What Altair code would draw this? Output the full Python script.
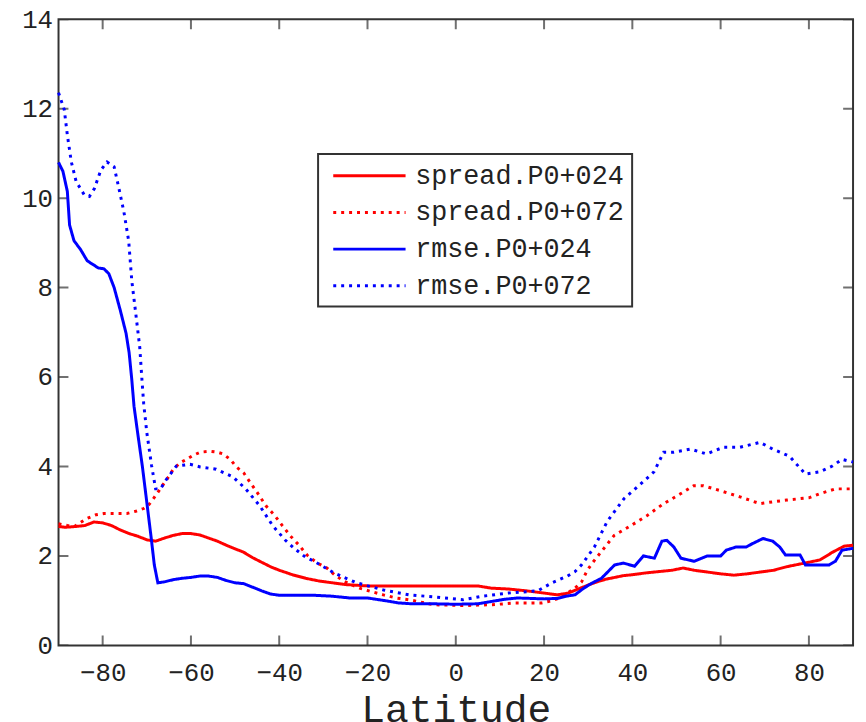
import altair as alt
import pandas as pd

# ---------------- data ----------------
series_names = ["spread.P0+024", "spread.P0+072", "rmse.P0+024", "rmse.P0+072"]
series_colors = ["#ff0000", "#ff0000", "#0000ff", "#0000ff"]
series_dashes = [[1, 0], [3, 5], [1, 0], [3, 5]]

x_ticks = [-80, -60, -40, -20, 0, 20, 40, 60, 80]
y_ticks = [0, 2, 4, 6, 8, 10, 12, 14]

spread024_lat = [-90, -88.5, -86, -84, -82, -80, -78, -76, -74, -72,
                 -70, -68, -66, -64, -62, -60, -58, -56, -54, -52,
                 -50, -48, -46, -44, -42, -40, -37, -34, -31, -28,
                 -25, -20, -15, -10, -5, 0, 5, 8, 12, 16,
                 20, 23, 25.5, 27.5, 30, 32, 34, 36, 38, 40,
                 43, 46, 49, 51.5, 54, 57, 60, 63, 66, 69,
                 72, 75, 78, 80, 82.5, 85.3, 88, 90]
spread024_val = [2.66, 2.64, 2.66, 2.68, 2.76, 2.74, 2.68, 2.58, 2.5, 2.44,
                 2.36, 2.33, 2.4, 2.46, 2.5, 2.5, 2.47, 2.4, 2.33, 2.24,
                 2.16, 2.08, 1.96, 1.86, 1.76, 1.68, 1.58, 1.5, 1.44, 1.4,
                 1.36, 1.33, 1.33, 1.33, 1.33, 1.33, 1.33, 1.28, 1.26, 1.22,
                 1.17, 1.13, 1.17, 1.25, 1.35, 1.42, 1.48, 1.52, 1.56, 1.58,
                 1.62, 1.65, 1.68, 1.73, 1.68, 1.64, 1.6, 1.57, 1.6, 1.64,
                 1.68, 1.76, 1.82, 1.86, 1.91, 2.08, 2.22, 2.24]

spread072_lat = [-90, -88, -86.4, -85, -83.5, -81.5, -79.7, -77, -74.5, -72.5,
                 -70.7, -69.5, -68.5, -67.3, -66.2, -65, -64, -62.5, -61, -59.5,
                 -57.9, -55.7, -54, -52.7, -51, -49.8, -48, -46.7, -45, -43,
                 -41, -39.3, -37.5, -35.5, -33.7, -31.5, -29.2, -27.5, -25.4, -23.5,
                 -21.8, -19, -16.4, -13.5, -10.6, -8, -5.2, -2, 1.6, 5,
                 8.3, 11, 13.5, 17, 19.5, 21, 22.4, 24, 25.3, 27,
                 28.5, 29.8, 31, 33, 35.9, 39.7, 43.3, 47.1, 50.9, 53.9,
                 56.1, 59.9, 64.4, 68.9, 71.8, 75, 77.9, 80, 82.4, 86, 90]
spread072_val = [2.72, 2.68, 2.66, 2.75, 2.84, 2.92, 2.95, 2.95, 2.95, 3.0,
                 3.06, 3.15, 3.28, 3.45, 3.61, 3.78, 3.94, 4.08, 4.16, 4.25,
                 4.32, 4.34, 4.32, 4.28, 4.15, 4.0, 3.85, 3.66, 3.42, 3.12,
                 2.9, 2.68, 2.45, 2.24, 2.02, 1.85, 1.73, 1.58, 1.44, 1.35,
                 1.28, 1.2, 1.13, 1.06, 1.02, 0.97, 0.91, 0.9, 0.89, 0.9,
                 0.91, 0.93, 0.95, 0.95, 0.95, 0.98, 1.02, 1.08, 1.17, 1.28,
                 1.42, 1.68, 1.85, 2.1, 2.46, 2.68, 2.9, 3.17, 3.39, 3.57,
                 3.57, 3.46, 3.32, 3.17, 3.21, 3.25, 3.28, 3.3, 3.39, 3.5, 3.5]

rmse024_lat = [-90, -89, -88, -87.5, -86.5, -85, -83.5, -81, -79.7, -78.6,
               -77.4, -76, -74.7, -74, -73.4, -72.9, -72, -71, -70, -69,
               -68.3, -67.5, -66, -64, -62, -60, -58, -56, -54, -52,
               -50, -48, -46, -44, -42, -40, -36, -32, -28, -24,
               -20, -16, -13, -10, -5, 0, 5, 8, 11, 14,
               17, 20, 23, 25, 27, 29, 31, 33, 36, 38,
               40.5, 42.5, 45, 46.7, 47.8, 49.4, 51, 54, 57, 60,
               61.3, 63.5, 65.8, 67.3, 69.6, 71.8, 73.4, 74.7, 78, 79.2,
               84.6, 86, 87.5, 90]
rmse024_val = [10.8, 10.6, 10.15, 9.4, 9.05, 8.85, 8.6, 8.44, 8.42, 8.31,
               8.0, 7.49, 6.98, 6.54, 5.94, 5.35, 4.7, 4.0, 3.2, 2.4,
               1.8, 1.4, 1.42, 1.47, 1.5, 1.52, 1.55, 1.55, 1.52, 1.45,
               1.4, 1.38, 1.3, 1.22, 1.15, 1.12, 1.12, 1.12, 1.1, 1.06,
               1.06, 1.0, 0.95, 0.93, 0.93, 0.92, 0.93, 0.98, 1.03, 1.06,
               1.05, 1.04, 1.05, 1.1, 1.13, 1.28, 1.4, 1.5, 1.8, 1.84,
               1.77, 2.0, 1.95, 2.33, 2.35, 2.2, 1.95, 1.88, 2.0, 2.0,
               2.13, 2.2, 2.2, 2.28, 2.39, 2.33, 2.2, 2.02, 2.02, 1.8,
               1.8, 1.88, 2.13, 2.17]

rmse072_lat = [-90, -88.7, -88, -87.1, -86, -84.2, -83, -81.9, -80.4, -79,
               -77.4, -76.3, -75.2, -74.1, -73.4, -72.5, -71.6, -71.1, -70.7, -70,
               -68.9, -68, -66.9, -65.5, -63.3, -60.2, -57.9, -54.3, -50.5, -47.6,
               -44.4, -41.5, -38.6, -36.6, -34, -32.1, -27.6, -22.5, -16.4, -10.6,
               -4.5, 1.6, 6, 11.9, 18.6, 21.8, 25.3, 27, 28.5, 31.4,
               34.3, 38.1, 41.9, 44.9, 47.1, 49.4, 53.2, 56.8, 60.6, 64.4,
               68.9, 71.8, 75.6, 79.2, 82.4, 85.3, 87.5, 90]
rmse072_val = [12.36, 11.98, 11.41, 10.81, 10.37, 10.08, 10.04, 10.21, 10.63, 10.81,
               10.7, 10.21, 9.7, 9.04, 8.15, 7.42, 6.67, 5.94, 5.4, 4.76,
               4.01, 3.5, 3.5, 3.72, 4.01, 4.05, 3.99, 3.94, 3.77, 3.5,
               3.12, 2.68, 2.35, 2.17, 1.97, 1.88, 1.62, 1.4, 1.24, 1.13,
               1.08, 1.02, 1.1, 1.17, 1.22, 1.4, 1.55, 1.65, 1.8, 2.2,
               2.77, 3.28, 3.61, 3.88, 4.32, 4.32, 4.39, 4.28, 4.43, 4.43,
               4.54, 4.39, 4.23, 3.83, 3.88, 4.01, 4.16, 4.1]

# ---------------- build table ----------------
rows = []
for name, lats, vals in [
    (series_names[0], spread024_lat, spread024_val),
    (series_names[1], spread072_lat, spread072_val),
    (series_names[2], rmse024_lat, rmse024_val),
    (series_names[3], rmse072_lat, rmse072_val),
]:
    for la, v in zip(lats, vals):
        rows.append({"lat": la, "value": v, "series": name})
df = pd.DataFrame(rows)

FONT = "Liberation Mono"
INK = "#222222"
FRAME = "#333333"

xscale = alt.Scale(domain=[-90, 90], nice=False, zero=False)
yscale = alt.Scale(domain=[0, 14], nice=False, zero=False)

x_axis = alt.Axis(values=x_ticks, title="Latitude", ticks=False, domain=False, grid=False,
                  labelFont=FONT, labelFontSize=26, labelColor=INK, labelPadding=14,
                  titleFont=FONT, titleFontSize=40, titleFontWeight="normal",
                  titleColor=INK, titlePadding=5)
y_axis = alt.Axis(values=y_ticks, title=None, ticks=False, domain=False, grid=False,
                  labelFont=FONT, labelFontSize=26, labelColor=INK, labelPadding=6)

# long line symbol drawn as a custom path so the legend rows stay compact
legend = alt.Legend(title=None, orient="none", legendX=262, legendY=136,
                    symbolType="M-0.55,0H5.45", symbolSize=592, symbolStrokeWidth=3,
                    labelFont=FONT, labelFontSize=27, labelColor=INK, labelOffset=62,
                    labelLimit=400, rowPadding=10, padding=8,
                    fillColor="white", strokeColor=FRAME)

lines = alt.Chart(df).mark_line(strokeWidth=3, strokeCap="butt").encode(
    x=alt.X("lat:Q", scale=xscale, axis=x_axis),
    y=alt.Y("value:Q", scale=yscale, axis=y_axis),
    color=alt.Color("series:N", scale=alt.Scale(domain=series_names, range=series_colors),
                    legend=legend),
    strokeDash=alt.StrokeDash("series:N", scale=alt.Scale(domain=series_names, range=series_dashes),
                              legend=legend),
)


def tick_layer(lats, vals, orient):
    t = pd.DataFrame({"lat": lats, "value": vals})
    return alt.Chart(t).mark_tick(orient=orient, size=20, thickness=2, color=FRAME, clip=True).encode(
        x=alt.X("lat:Q", scale=xscale, axis=x_axis),
        y=alt.Y("value:Q", scale=yscale, axis=y_axis),
    )


bottom_ticks = tick_layer(x_ticks, [0] * len(x_ticks), "vertical")
top_ticks = tick_layer(x_ticks, [14] * len(x_ticks), "vertical")
left_ticks = tick_layer([-90] * len(y_ticks), y_ticks, "horizontal")
right_ticks = tick_layer([90] * len(y_ticks), y_ticks, "horizontal")

chart = alt.layer(bottom_ticks, top_ticks, left_ticks, right_ticks, lines).properties(
    width=802, height=632,
    autosize=alt.AutoSizeParams(type="none"),
    padding={"left": 51, "top": 8, "right": 5, "bottom": 80},
    background="white",
).configure_view(stroke=FRAME, strokeWidth=2).configure_legend(strokeWidth=2)

chart.save("out.html", embed_options={"renderer": "svg", "actions": False})
